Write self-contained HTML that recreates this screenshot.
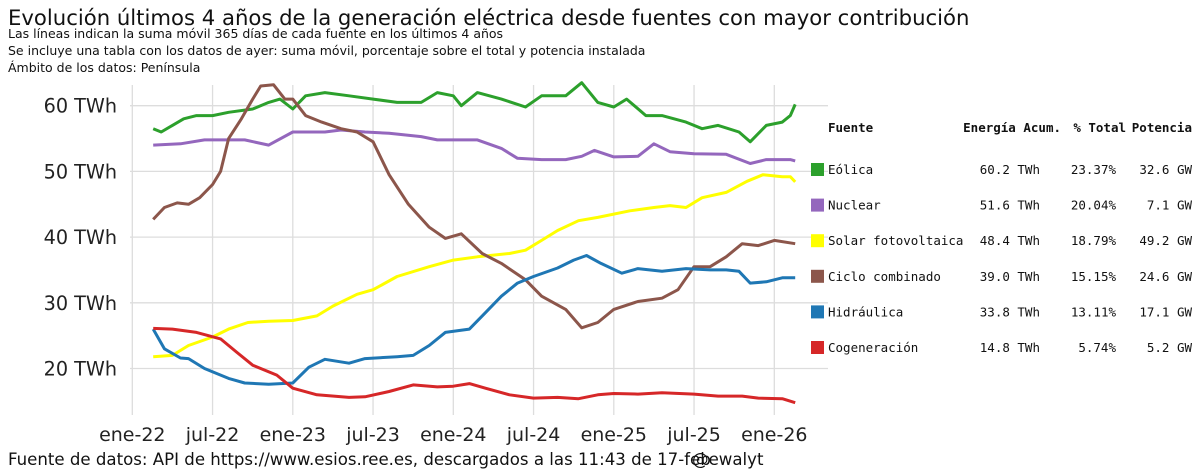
<!DOCTYPE html>
<html><head><meta charset="utf-8">
<style>
body{margin:0;background:#fff;width:1200px;height:476px;overflow:hidden;font-family:"Liberation Sans","DejaVu Sans",sans-serif}
svg{position:absolute;left:0;top:0}
</style></head><body>
<svg width="1200" height="476" id="c">
<text x="8" y="25" font-size="21.2" fill="#111" font-family="DejaVu Sans, sans-serif">Evolución últimos 4 años de la generación eléctrica desde fuentes con mayor contribución</text>
<text x="8" y="38" font-size="12.5" fill="#111" font-family="DejaVu Sans, sans-serif">Las líneas indican la suma móvil 365 días de cada fuente en los últimos 4 años</text>
<text x="8" y="55" font-size="12.5" fill="#111" font-family="DejaVu Sans, sans-serif">Se incluye una tabla con los datos de ayer: suma móvil, porcentaje sobre el total y potencia instalada</text>
<text x="8" y="72" font-size="12.5" fill="#111" font-family="DejaVu Sans, sans-serif">Ámbito de los datos: Península</text>
<g id="grid"></g><g id="lines"></g><g id="axes"></g><g id="table"></g>
<text x="8" y="465" font-size="16.6" fill="#111" font-family="DejaVu Sans, sans-serif">Fuente de datos: API de https://www.esios.ree.es, descargados a las 11:43 de 17-feb</text>
<text x="692" y="465" font-size="16.6" fill="#111" font-family="DejaVu Sans, sans-serif">@ewalyt</text>
</svg>
<script>
const NS="http://www.w3.org/2000/svg";
const yTicks=[20,30,40,50,60];
const xTickLabels=["ene-22","jul-22","ene-23","jul-23","ene-24","jul-24","ene-25","jul-25","ene-26"];
const seriesNames=["Eólica","Nuclear","Solar fotovoltaica","Ciclo combinado","Hidráulica","Cogeneración"];
const seriesColors=["#2ca02c","#9467bd","#ffff00","#8c564b","#1f77b4","#d62728"];
const energia=["60.2 TWh","51.6 TWh","48.4 TWh","39.0 TWh","33.8 TWh","14.8 TWh"];
const pct=["23.37%","20.04%","18.79%","15.15%","13.11%","5.74%"];
const potencia=["32.6 GW","7.1 GW","49.2 GW","24.6 GW","17.1 GW","5.2 GW"];
// [years since ene-22, TWh]
const eolica=[[.13,56.5],[.18,56],[.25,57],[.32,58],[.4,58.5],[.5,58.5],[.6,59],[.75,59.5],[.85,60.5],[.92,61],[1.0,59.5],[1.08,61.5],[1.2,62],[1.35,61.5],[1.5,61],[1.65,60.5],[1.8,60.5],[1.9,62],[2.0,61.5],[2.05,60],[2.15,62],[2.3,61],[2.45,59.8],[2.55,61.5],[2.7,61.5],[2.8,63.5],[2.9,60.5],[3.0,59.8],[3.08,61],[3.2,58.5],[3.3,58.5],[3.45,57.5],[3.55,56.5],[3.65,57],[3.78,56],[3.85,54.5],[3.95,57],[4.05,57.5],[4.1,58.5],[4.13,60.2]];
const nuclear=[[.13,54],[.3,54.2],[.45,54.8],[.7,54.8],[.85,54],[1.0,56],[1.2,56],[1.3,56.3],[1.45,56],[1.6,55.8],[1.8,55.3],[1.9,54.8],[2.15,54.8],[2.3,53.5],[2.4,52],[2.55,51.8],[2.7,51.8],[2.8,52.3],[2.88,53.2],[3.0,52.2],[3.15,52.3],[3.25,54.2],[3.35,53],[3.5,52.7],[3.7,52.6],[3.85,51.2],[3.95,51.8],[4.1,51.8],[4.13,51.6]];
const solar=[[.13,21.8],[.25,22],[.35,23.5],[.5,24.8],[.6,26],[.72,27],[.85,27.2],[1.0,27.3],[1.15,28],[1.25,29.5],[1.4,31.3],[1.5,32],[1.65,34],[1.85,35.5],[2.0,36.5],[2.15,37],[2.35,37.5],[2.45,38],[2.55,39.5],[2.65,41],[2.78,42.5],[2.9,43],[3.1,44],[3.25,44.5],[3.35,44.8],[3.45,44.5],[3.55,46],[3.7,46.8],[3.83,48.5],[3.93,49.5],[4.05,49.2],[4.1,49.2],[4.13,48.4]];
const ciclo=[[.13,42.7],[.2,44.5],[.28,45.2],[.35,45],[.42,46],[.5,48],[.55,50],[.6,55],[.68,58],[.75,61],[.8,63],[.88,63.2],[.95,61],[1.0,61],[1.08,58.5],[1.18,57.5],[1.3,56.5],[1.4,56],[1.5,54.5],[1.6,49.5],[1.72,45],[1.85,41.5],[1.95,39.8],[2.05,40.5],[2.18,37.5],[2.3,36],[2.45,33.5],[2.55,31],[2.7,29],[2.8,26.2],[2.9,27],[3.0,29],[3.15,30.2],[3.3,30.7],[3.4,32],[3.5,35.5],[3.6,35.5],[3.7,37],[3.8,39],[3.9,38.7],[4.0,39.5],[4.13,39]];
const hidraulica=[[.13,26],[.2,23],[.3,21.6],[.35,21.5],[.45,20],[.6,18.5],[.7,17.8],[.85,17.6],[1.0,17.8],[1.1,20.2],[1.2,21.4],[1.35,20.8],[1.45,21.5],[1.65,21.8],[1.75,22],[1.85,23.5],[1.95,25.5],[2.1,26],[2.2,28.5],[2.3,31],[2.4,33],[2.5,34],[2.65,35.3],[2.75,36.5],[2.83,37.2],[2.92,36],[3.05,34.5],[3.15,35.2],[3.3,34.8],[3.45,35.2],[3.6,35],[3.7,35],[3.78,34.8],[3.85,33],[3.95,33.2],[4.05,33.8],[4.13,33.8]];
const cogen=[[.13,26.1],[.25,26],[.4,25.5],[.55,24.5],[.65,22.5],[.75,20.5],[.9,19],[1.0,17],[1.15,16],[1.35,15.6],[1.45,15.7],[1.6,16.5],[1.75,17.5],[1.9,17.2],[2.0,17.3],[2.1,17.7],[2.2,17],[2.35,16],[2.5,15.5],[2.65,15.6],[2.78,15.4],[2.9,16],[3.0,16.2],[3.15,16.1],[3.3,16.3],[3.5,16.1],[3.65,15.8],[3.8,15.8],[3.9,15.5],[4.05,15.4],[4.13,14.8]];
const allSeries=[eolica,nuclear,solar,ciclo,hidraulica,cogen];
const X=t=>132.3+t*160.5, Y=v=>105.7+(60-v)*6.57;
function mk(tag,attrs,parent){const e=document.createElementNS(NS,tag);for(const k in attrs)e.setAttribute(k,attrs[k]);document.getElementById(parent).appendChild(e);return e;}
yTicks.forEach(v=>{
 const l=mk("line",{x1:130,x2:828,y1:Y(v),y2:Y(v),stroke:"#ddd","stroke-width":1.3},"grid");
 
 
 const t=mk("text",{x:117,y:Y(v)+7,"font-size":19.2,"text-anchor":"end",fill:"#222","font-family":"DejaVu Sans, sans-serif"},"axes");
 t.textContent=v+" TWh";
 
 
});
xTickLabels.forEach((s,i)=>{
 const x=X(i*0.5);
 const l=mk("line",{x1:x,x2:x,y1:85,y2:415,stroke:"#ddd","stroke-width":1.3},"grid");
 
 
 const t=mk("text",{x:x,y:441,"font-size":19,"text-anchor":"middle",fill:"#222","font-family":"DejaVu Sans, sans-serif"},"axes");
 t.textContent=s;
 
 
});
allSeries.forEach((s,i)=>{
 const p=mk("polyline",{points:s.map(d=>X(d[0]).toFixed(1)+","+Y(d[1]).toFixed(1)).join(" "),fill:"none",stroke:seriesColors[i],"stroke-width":3,"stroke-linejoin":"round"},"lines");
 
 
});
const mono="DejaVu Sans Mono, Liberation Mono, monospace";
[["Fuente",828,"start"],["Energía Acum.",1061,"end"],["% Total",1126,"end"],["Potencia",1192,"end"]].forEach(h=>{
 const t=mk("text",{x:h[1],y:132,"font-size":12.5,"font-weight":"bold","text-anchor":h[2],fill:"#111","font-family":mono},"table");
 t.textContent=h[0];
 
 
});
seriesNames.forEach((n,i)=>{
 const y=174+i*35.6;
 const r=mk("rect",{x:811,y:y-11,width:13,height:13,fill:seriesColors[i]},"table");
 
 
 [[n,828,"start"],[energia[i],1040,"end"],[pct[i],1116,"end"],[potencia[i],1192,"end"]].forEach(c=>{
  const t=mk("text",{x:c[1],y:y,"font-size":12.5,"text-anchor":c[2],fill:"#111","font-family":mono},"table");
  t.textContent=c[0];
  
  
 });
});
</script>
</body></html>
